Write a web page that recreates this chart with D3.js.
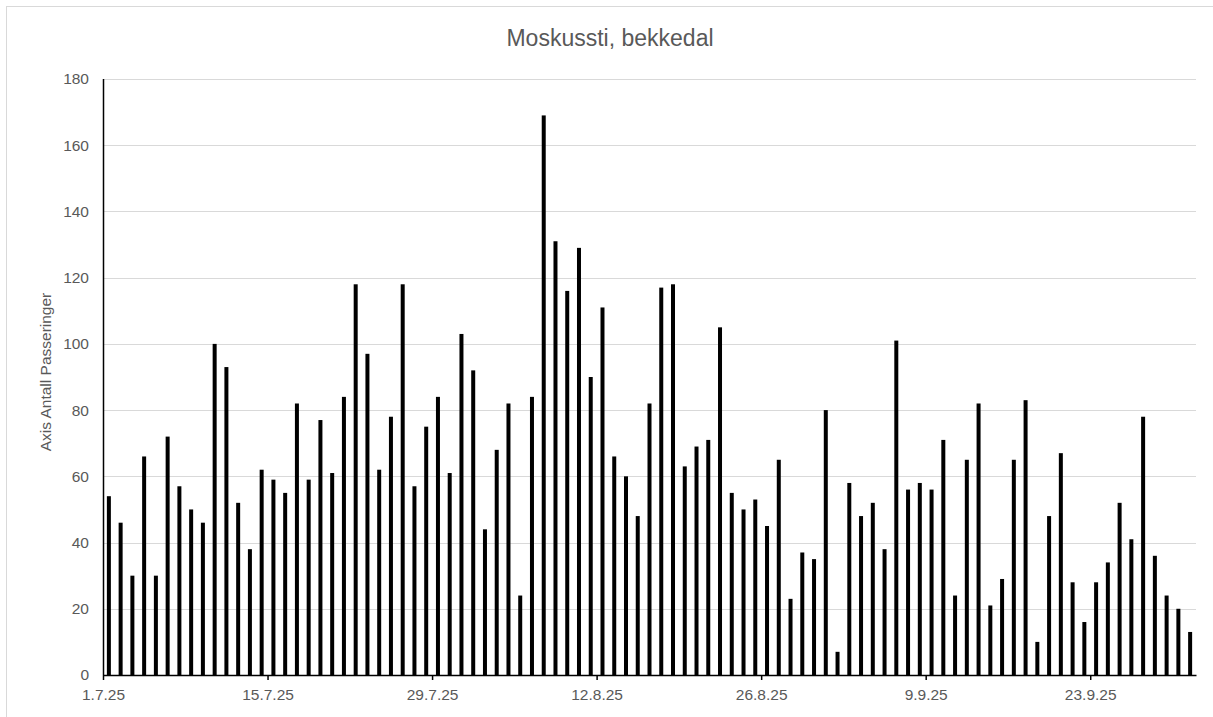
<!DOCTYPE html>
<html>
<head>
<meta charset="utf-8">
<script src="https://cdn.jsdelivr.net/npm/d3@7"></script>
<style>
  html, body { margin: 0; padding: 0; background: #fff; }
  svg { display: block; }
  text { font-family: "Liberation Sans", Arial, sans-serif; fill: #595959; }
</style>
</head>
<body>
<svg id="chart" width="1213" height="717"></svg>
<script>
const chartTitle = "Moskussti, bekkedal";
const yAxisTitle = "Axis Antall Passeringer";
const startDate = "2025-07-01";
const passeringer = [
  54, 46, 30, 66, 30, 72, 57, 50, 46, 100,
  93, 52, 38, 62, 59, 55, 82, 59, 77, 61,
  84, 118, 97, 62, 78, 118, 57, 75, 84, 61,
  103, 92, 44, 68, 82, 24, 84, 169, 131, 116,
  129, 90, 111, 66, 60, 48, 82, 117, 118, 63,
  69, 71, 105, 55, 50, 53, 45, 65, 23, 37,
  35, 80, 7, 58, 48, 52, 38, 101, 56, 58,
  56, 71, 24, 65, 82, 21, 29, 65, 83, 10,
  48, 67, 28, 16, 28, 34, 52, 41, 78, 36,
  24, 20, 13
];
const xTickDates = ["2025-07-01", "2025-07-15", "2025-07-29", "2025-08-12", "2025-08-26", "2025-09-09", "2025-09-23"];
const xTickLabels = ["1.7.25", "15.7.25", "29.7.25", "12.8.25", "26.8.25", "9.9.25", "23.9.25"];
const yTicks = [0, 20, 40, 60, 80, 100, 120, 140, 160, 180];

const parse = d3.timeParse("%Y-%m-%d");
const start = parse(startDate);
const dates = passeringer.map((_, i) => d3.timeDay.offset(start, i));
const end = d3.timeDay.offset(start, passeringer.length);

const svg = d3.select("#chart");
const plot = { left: 103, right: 1196, top: 79, bottom: 675 };

// chart border
svg.append("rect").attr("x", 6.5).attr("y", 6.5).attr("width", 1220).attr("height", 720)
  .attr("fill", "none").attr("stroke", "#d9d9d9").attr("stroke-width", 1);

const x = d3.scaleTime().domain([start, end]).range([plot.left, plot.right]);
const y = d3.scaleLinear().domain([0, 180]).range([plot.bottom, plot.top]);

// gridlines
svg.append("g").selectAll("line").data(yTicks.filter(d => d > 0)).join("line")
  .attr("x1", plot.left).attr("x2", plot.right)
  .attr("y1", d => Math.round(y(d)) + 0.5).attr("y2", d => Math.round(y(d)) + 0.5)
  .attr("stroke", "#d9d9d9").attr("stroke-width", 1);

// y tick labels
svg.append("g").selectAll("text").data(yTicks).join("text")
  .attr("x", 89).attr("y", d => y(d)).attr("dy", "0.35em")
  .attr("text-anchor", "end").attr("font-size", "15.5px")
  .text(d => d);

// bars
const bw = 4;
svg.append("g").selectAll("rect").data(passeringer).join("rect")
  .attr("x", (d, i) => x(d3.timeHour.offset(dates[i], 12)) - bw / 2)
  .attr("width", bw)
  .attr("y", d => y(d))
  .attr("height", d => y(0) - y(d))
  .attr("fill", "#000");

// axes lines
svg.append("line").attr("x1", plot.left + 0.5).attr("x2", plot.left + 0.5)
  .attr("y1", y(180)).attr("y2", y(0)).attr("stroke", "#000").attr("stroke-width", 1.5);
const xAxis = d3.axisBottom(x)
  .tickValues(xTickDates.map(parse))
  .tickFormat((d, i) => xTickLabels[i])
  .tickSize(5).tickSizeOuter(0).tickPadding(9);
const gx = svg.append("g").attr("transform", `translate(0,${plot.bottom})`).call(xAxis);
gx.select(".domain").attr("stroke", "#000").attr("stroke-width", 1.5);
gx.selectAll(".tick line").attr("stroke", "#000").attr("stroke-width", 1.5);
gx.selectAll(".tick text").attr("font-size", "15.5px").attr("fill", "#595959")
  .attr("font-family", "Liberation Sans, Arial, sans-serif");

// title
svg.append("text").attr("x", 610).attr("y", 46).attr("text-anchor", "middle")
  .attr("font-size", "23px").text(chartTitle);

// y axis title
svg.append("text").attr("transform", "translate(51,372) rotate(-90)")
  .attr("text-anchor", "middle").attr("font-size", "15.5px").text(yAxisTitle);
</script>
</body>
</html>
